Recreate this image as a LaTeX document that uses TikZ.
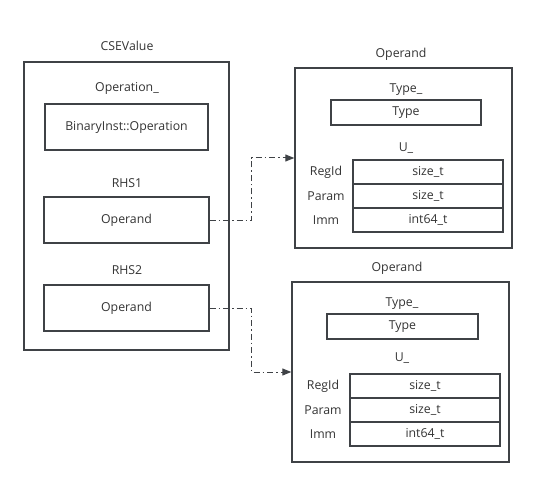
\documentclass[tikz,border=0pt]{standalone}
\usepackage{fontspec}
\setmainfont{Open Sans}
\usetikzlibrary{arrows.meta}
\definecolor{edge}{HTML}{3F4246}
\definecolor{ink}{HTML}{333333}

\begin{document}
\begin{tikzpicture}[x=1pt,y=-1pt,font=\fontsize{12.3}{14}\selectfont,text=ink,
  box/.style={draw=edge,line width=1.4pt,inner sep=0pt},
  cell/.style={draw=edge,line width=1.2pt,inner sep=0pt,minimum width=150pt,minimum height=24pt},
  link/.style={edge,line width=1pt,dash pattern=on 6pt off 3pt on 1.5pt off 3pt,
    -{Triangle[length=9pt,width=7pt]}}]
  \useasboundingbox (0,0) rectangle (537,486);

  % CSEValue
  \node [box,minimum width=205pt,minimum height=288pt] (cse) at (126.5,206) {};
  \node (cseLbl) at (127,46) {CSEValue};
  \node (opLbl) at (127,88) {Operation\_};
  \node [box,minimum width=163pt,minimum height=46pt] (op) at (126.5,127) {BinaryInst::Operation};
  \node (rhs1Lbl) at (127,183) {RHS1};
  \node [box,minimum width=165pt,minimum height=46pt] (rhs1) at (126.5,220) {Operand};
  \node (rhs2Lbl) at (127,270) {RHS2};
  \node [box,minimum width=165pt,minimum height=46pt] (rhs2) at (126.5,308) {Operand};

  % Operand (top)
  \node [box,minimum width=217pt,minimum height=180pt] (opA) at (403.5,158) {};
  \node (opALbl) at (401,54) {Operand};
  \node (typeALbl) at (406,90) {Type\_};
  \node [cell,minimum height=25pt] (typeA) at (406,112.5) {Type};
  \node (uALbl) at (406,148) {U\_};
  \node [cell] (regA) at (428,172) {size\_t};
  \node [cell] (parA) at (428,196) {size\_t};
  \node [cell] (immA) at (428,220) {int64\_t};
  \node (regALbl) at (326,172) {RegId};
  \node (parALbl) at (326,196) {Param};
  \node (immALbl) at (326,220) {Imm};

  % Operand (bottom)
  \node [box,minimum width=217pt,minimum height=180pt] (opB) at (400.5,372) {};
  \node (opBLbl) at (397,268) {Operand};
  \node (typeBLbl) at (402,304) {Type\_};
  \node [cell,minimum height=25pt,minimum width=151pt] (typeB) at (402.5,326.5) {Type};
  \node (uBLbl) at (402,358) {U\_};
  \node [cell] (regB) at (425,386) {size\_t};
  \node [cell] (parB) at (425,410) {size\_t};
  \node [cell] (immB) at (425,434) {int64\_t};
  \node (regBLbl) at (323,386) {RegId};
  \node (parBLbl) at (323,410) {Param};
  \node (immBLbl) at (323,434) {Imm};

  % links
  \draw [link] (rhs1.east) -- ++(42,0) |- (opA.west);
  \draw [link] (rhs2.east) -- ++(42,0) |- (opB.west);
\end{tikzpicture}
\end{document}
